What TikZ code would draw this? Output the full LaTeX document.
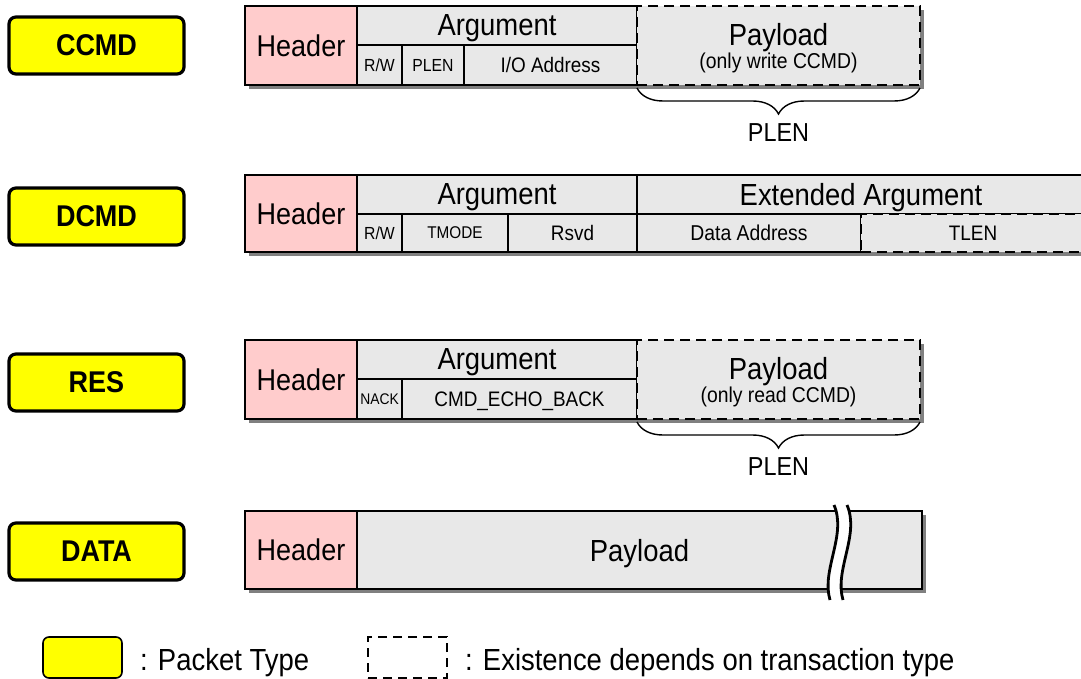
\documentclass[tikz,border=0pt]{standalone}
\usepackage{fontspec}
\setmainfont{Liberation Sans}[FakeStretch=0.9]
\usetikzlibrary{decorations.pathreplacing}
\definecolor{hdrpink}{RGB}{255,204,204}
\definecolor{cellgray}{RGB}{232,232,232}
\definecolor{shadowgray}{RGB}{128,128,128}
\definecolor{ptyellow}{RGB}{255,255,0}
\newcommand\fsz[1]{\fontsize{#1}{#1}\selectfont}
\begin{document}
\begin{tikzpicture}[x=1pt,y=-1pt,
  cell/.style={draw, line width=2.8pt, fill=cellgray, inner sep=0pt, outer sep=0pt,
    anchor=north west, text depth=0pt, font=\fsz{21}},
  hdr/.style={cell, fill=hdrpink, font=\fsz{30}},
  opt/.style={cell, dash pattern=on 10pt off 6pt},
  ptype/.style={draw, line width=3.2pt, fill=ptyellow, rounded corners=7pt, inner sep=0pt,
    outer sep=0pt, anchor=north west, minimum width=175pt, minimum height=57pt,
    text depth=0pt, font=\bfseries\fsz{30}},
  txt/.style={inner sep=0pt, text depth=0pt},
  shadowbox/.style={fill=shadowgray},
  pbrace/.style={decorate, decoration={brace, mirror, amplitude=26pt}, line width=1.4pt},
  brk/.style={line width=2.8pt}
]
\useasboundingbox (0,0) rectangle (1081,679);

% ---------------- CCMD ----------------
\fill[shadowbox] (249,10) rectangle (924,89);
\node[ptype] (tcc) at (9,17) {CCMD};
\node[hdr, minimum width=112pt, minimum height=79pt] (cchdr) at (245,6) {Header};
\node[cell, minimum width=280pt, minimum height=39pt, font=\fsz{30.5}] (ccarg) at (357,6) {Argument};
\node[cell, minimum width=45pt, minimum height=40pt, font=\fsz{17.5}] (ccrw) at (357,45) {R/W};
\node[cell, minimum width=62pt, minimum height=40pt, font=\fsz{17.5}] (ccplen) at (402,45) {PLEN};
\node[cell, minimum width=173pt, minimum height=40pt] (ccio) at (464,45) {I/O Address};
\node[opt, minimum width=283pt, minimum height=79pt] (ccpay) at (637,6) {};
\node[txt, font=\fsz{30.5}] (ccpayt) at (778.5,34) {Payload};
\node[txt, font=\fsz{21.5}] (ccpays) at (778.5,61) {(only write CCMD)};
\draw[pbrace] ([yshift=-3pt]ccpay.south west) -- ([yshift=-3pt]ccpay.south east);
\node[txt, font=\fsz{26}] (ccbl) at (778.5,133) {PLEN};

% ---------------- DCMD ----------------
\fill[shadowbox] (249,179) rectangle (1090,256);
\node[ptype] (tdc) at (9,188) {DCMD};
\node[hdr, minimum width=112pt, minimum height=77pt] (dchdr) at (245,175) {Header};
\node[cell, minimum width=280pt, minimum height=39pt, font=\fsz{30.5}] (dcarg) at (357,175) {Argument};
\node[cell, minimum width=45pt, minimum height=38pt, font=\fsz{17.5}] (dcrw) at (357,214) {R/W};
\node[cell, minimum width=106pt, minimum height=38pt, font=\fsz{17}] (dctm) at (402,214) {TMODE};
\node[cell, minimum width=129pt, minimum height=38pt] (dcrs) at (508,214) {Rsvd};
\node[cell, minimum width=448pt, minimum height=39pt, font=\fsz{30.5}] (dcext) at (637,175) {Extended Argument};
\node[cell, minimum width=224pt, minimum height=38pt, font=\fsz{21.5}] (dcda) at (637,214) {Data Address};
\node[opt, minimum width=224pt, minimum height=38pt] (dctl) at (861,214) {TLEN};

% ---------------- RES ----------------
\fill[shadowbox] (249,344) rectangle (924,423);
\node[ptype] (tres) at (9,354) {RES};
\node[hdr, minimum width=112pt, minimum height=79pt] (rshdr) at (245,340) {Header};
\node[cell, minimum width=280pt, minimum height=39pt, font=\fsz{30.5}] (rsarg) at (357,340) {Argument};
\node[cell, minimum width=45pt, minimum height=40pt, font=\fsz{15.4}] (rsnack) at (357,379) {NACK};
\node[cell, minimum width=235pt, minimum height=40pt] (rsecho) at (402,379) {CMD\_ECHO\_BACK};
\node[opt, minimum width=283pt, minimum height=79pt] (rspay) at (637,340) {};
\node[txt, font=\fsz{30.5}] (rspayt) at (778.5,368) {Payload};
\node[txt, font=\fsz{21.5}] (rspays) at (778.5,395) {(only read CCMD)};
\draw[pbrace] ([yshift=-3pt]rspay.south west) -- ([yshift=-3pt]rspay.south east);
\node[txt, font=\fsz{26}] (rsbl) at (778.5,467) {PLEN};

% ---------------- DATA ----------------
\fill[shadowbox] (249,515) rectangle (926,593);
\node[ptype] (tdata) at (9,523) {DATA};
\node[hdr, minimum width=112pt, minimum height=78pt] (dthdr) at (245,511) {Header};
\node[cell, minimum width=565pt, minimum height=78pt, font=\fsz{30.5}] (dtpay) at (357,511) {Payload};
\fill[white] (834,505) .. controls (847,535) and (821,570) .. (830,600)
  -- (843,600) .. controls (834,570) and (860,535) .. (847,505) -- cycle;
\draw[brk] (834,505) .. controls (847,535) and (821,570) .. (830,600);
\draw[brk] (847,505) .. controls (860,535) and (834,570) .. (843,600);

% ---------------- Legend ----------------
\node[draw, line width=1.6pt, fill=ptyellow, rounded corners=6pt, inner sep=0pt, outer sep=0pt,
  anchor=north west, minimum width=79pt, minimum height=41pt] (legy) at (43,637) {};
\node[txt, anchor=west, font=\fsz{30.5}] (legyt) at (140,659) {: Packet Type};
\node[draw, line width=2.4pt, dash pattern=on 9pt off 6pt, inner sep=0pt, outer sep=0pt,
  anchor=north west, minimum width=79pt, minimum height=41pt] (legd) at (368,637) {};
\node[txt, anchor=west, font=\fsz{30.5}] (legdt) at (465,659) {: Existence depends on transaction type};
\end{tikzpicture}
\end{document}
